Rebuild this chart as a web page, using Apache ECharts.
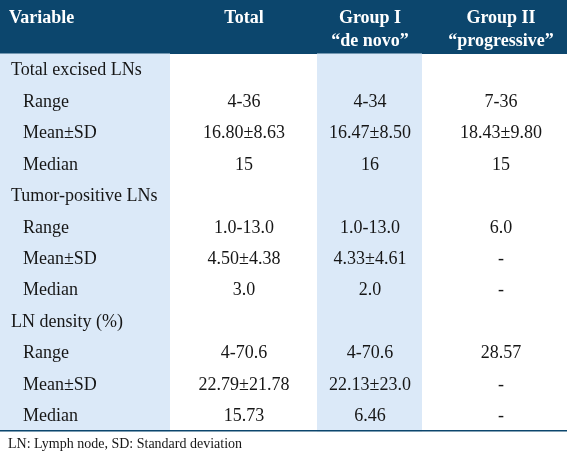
<!DOCTYPE html>
<html>
<head>
<meta charset="utf-8">
<script src="https://cdn.jsdelivr.net/npm/echarts@6/dist/echarts.min.js"></script>
<style>
html,body{margin:0;padding:0;background:#fff;}
#chart{width:567px;height:455px;}
</style>
</head>
<body>
<div id="chart"></div>
<script>
// ---- data ----
const columns = ['Variable', 'Total', 'Group I\n“de novo”', 'Group II\n“progressive”'];
const rowLabels = ['Total excised LNs', 'Range', 'Mean±SD', 'Median',
  'Tumor-positive LNs', 'Range', 'Mean±SD', 'Median',
  'LN density (%)', 'Range', 'Mean±SD', 'Median'];
const isSubRow = [false, true, true, true, false, true, true, true, false, true, true, true];
const totalVals = ['', '4-36', '16.80±8.63', '15', '', '1.0-13.0', '4.50±4.38', '3.0', '', '4-70.6', '22.79±21.78', '15.73'];
const group1Vals = ['', '4-34', '16.47±8.50', '16', '', '1.0-13.0', '4.33±4.61', '2.0', '', '4-70.6', '22.13±23.0', '6.46'];
const group2Vals = ['', '7-36', '18.43±9.80', '15', '', '6.0', '-', '-', '', '28.57', '-', '-'];
const footnote = 'LN: Lymph node, SD: Standard deviation';

// ---- layout / style ----
const colEdges = [0, 170, 317, 422, 567];
const colCenters = [11, 244, 370, 501];
const shadedCols = [0, 2];
const HEADER_H = 54;
const FONT = 'Liberation Serif';
const DARK = '#0c466d';
const LIGHT = '#dbe9f8';
const TEXT = '#161616';

const valueCols = [rowLabels, totalVals, group1Vals, group2Vals];
const cellData = [];
const bgData = [];
rowLabels.forEach((_, r) => {
  valueCols.forEach((col, c) => {
    cellData.push({ value: [c, r], text: col[r] });
  });
  shadedCols.forEach(c => bgData.push([c, r]));
});

const chart = echarts.init(document.getElementById('chart'), null, { renderer: 'canvas' });
chart.setOption({
  animation: false,
  backgroundColor: '#fff',
  grid: { left: 0, right: 0, top: HEADER_H, bottom: 455 - 431 },
  xAxis: { type: 'value', min: 0, max: 567, show: false },
  yAxis: { type: 'category', data: rowLabels.map((_, i) => i), inverse: true, show: false },
  graphic: [
    { type: 'rect', left: 0, top: 0, shape: { width: 567, height: HEADER_H }, style: { fill: DARK }, z: 1 },
    ...columns.map((t, c) => ({
      type: 'text',
      x: colCenters[c] - (c === 0 ? 2 : 0),
      y: 7.5,
      style: {
        text: t, fill: '#fff', fontFamily: FONT, fontSize: 18, fontWeight: 'bold',
        align: c === 0 ? 'left' : 'center', verticalAlign: 'top', lineHeight: 22.5
      },
      z: 2
    })),
    { type: 'rect', left: 0, top: 430, shape: { width: 567, height: 1.5 }, style: { fill: DARK }, z: 5 },
    { type: 'text', x: 8, y: 444, style: { text: footnote, fill: TEXT, fontFamily: FONT, fontSize: 14, align: 'left', verticalAlign: 'middle' }, z: 5 }
  ],
  series: [
    {
      type: 'custom',
      silent: true,
      data: bgData,
      z: 1,
      renderItem: function (params, api) {
        const c = api.value(0), r = api.value(1);
        const p = api.coord([colEdges[c], r]);
        const p2 = api.coord([colEdges[c + 1], r]);
        const h = api.size([0, 1])[1];
        return {
          type: 'rect',
          shape: { x: p[0], y: p[1] - h / 2 - 0.5, width: p2[0] - p[0], height: h + 1 },
          style: { fill: LIGHT }
        };
      }
    },
    {
      type: 'custom',
      silent: true,
      data: cellData,
      z: 3,
      renderItem: function (params, api) {
        const c = api.value(0), r = api.value(1);
        const item = cellData[params.dataIndex];
        let x = colCenters[c];
        if (c === 0 && isSubRow[r]) x += 12;
        const p = api.coord([x, r]);
        return {
          type: 'text',
          x: p[0],
          y: p[1] + 1,
          style: {
            text: item.text, fill: TEXT, fontFamily: FONT, fontSize: 18,
            align: c === 0 ? 'left' : 'center', verticalAlign: 'middle'
          }
        };
      }
    }
  ]
});
</script>
</body>
</html>
